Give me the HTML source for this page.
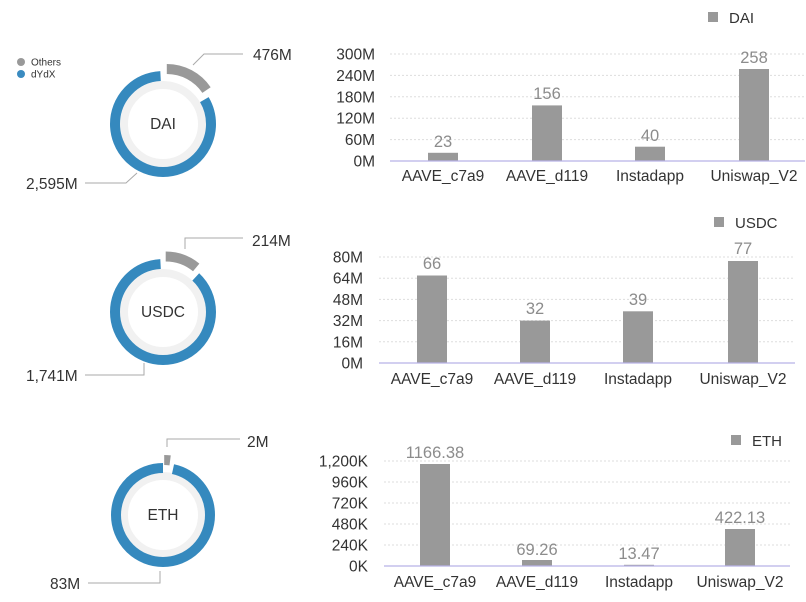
<!DOCTYPE html>
<html><head><meta charset="utf-8"><style>
html,body{margin:0;padding:0;background:#fff}
svg{display:block;font-family:"Liberation Sans",Arial,sans-serif}
.yt{font-size:15.5px;fill:#333;text-anchor:end}
.xt{font-size:15.5px;fill:#333;text-anchor:middle}
.vl{font-size:16.5px;fill:#8c8c8c;text-anchor:middle}
.gl{stroke:#ddd;stroke-width:1;stroke-dasharray:2,2}
.bl{stroke:#b8b2e6;stroke-width:1.2}
.bar{fill:#999}
.ld{stroke:#aaa;stroke-width:1;fill:none}
.dl{font-size:15.5px;fill:#333}
.cl{font-size:15.5px;fill:#333;text-anchor:middle}
.lg{font-size:15px;fill:#333}
</style></head><body>
<svg width="806" height="602" viewBox="0 0 806 602">
<circle cx="21" cy="62" r="4" fill="#999"/><text x="31" y="65.5" font-size="10" fill="#333">Others</text>
<circle cx="21" cy="74" r="4" fill="#3a8bc0"/><text x="31" y="77.5" font-size="10" fill="#333">dYdX</text>

<g transform="translate(163,124)">
<circle r="39" fill="none" stroke="#f1f1f1" stroke-width="8"/>
<circle r="48" fill="none" stroke="#3589be" stroke-width="10" transform="rotate(-90)" stroke-dasharray="248.9 400" stroke-dashoffset="-49.7"/>
<g transform="translate(3.8,-7)"><circle r="48" fill="none" stroke="#999" stroke-width="10" transform="rotate(-90)" stroke-dasharray="46.7 400"/></g>
<text class="cl" y="5">DAI</text>
</g>
<polyline class="ld" points="193,65 204,54 243,54"/><text class="dl" x="253" y="60">476M</text>
<polyline class="ld" points="85,183 126,183 137,173"/><text class="dl" x="26" y="189">2,595M</text>

<g transform="translate(163,312)">
<circle r="39" fill="none" stroke="#f1f1f1" stroke-width="8"/>
<circle r="48" fill="none" stroke="#3589be" stroke-width="10" transform="rotate(-90)" stroke-dasharray="262.6 400" stroke-dashoffset="-36"/>
<g transform="translate(2.7,-7.5)"><circle r="48" fill="none" stroke="#999" stroke-width="10" transform="rotate(-90)" stroke-dasharray="33 400"/></g>
<text class="cl" y="5">USDC</text>
</g>
<polyline class="ld" points="185,249 185,238 243,238"/><text class="dl" x="252" y="246">214M</text>
<polyline class="ld" points="85,375 144,375 144,363"/><text class="dl" x="26" y="381">1,741M</text>

<g transform="translate(163,515)">
<circle r="39" fill="none" stroke="#f1f1f1" stroke-width="8"/>
<circle r="47" fill="none" stroke="#3589be" stroke-width="10" transform="rotate(-90)" stroke-dasharray="285 400" stroke-dashoffset="-10.1"/>
<g transform="translate(1.2,-8)"><circle r="47" fill="none" stroke="#999" stroke-width="10" transform="rotate(-90)" stroke-dasharray="6 400"/></g>
<text class="cl" y="5">ETH</text>
</g>
<polyline class="ld" points="167,447 167,439 240,439"/><text class="dl" x="247" y="447">2M</text>
<polyline class="ld" points="88,583 160,583 160,571"/><text class="dl" x="50" y="589">83M</text>

<rect x="708" y="12" width="10" height="10" fill="#999"/><text class="lg" x="729" y="23">DAI</text>
<g>
<line class="gl" x1="390" x2="805" y1="54" y2="54"/>
<line class="gl" x1="390" x2="805" y1="75.4" y2="75.4"/>
<line class="gl" x1="390" x2="805" y1="96.8" y2="96.8"/>
<line class="gl" x1="390" x2="805" y1="118.2" y2="118.2"/>
<line class="gl" x1="390" x2="805" y1="139.6" y2="139.6"/>
<text class="yt" x="375" y="59.5">300M</text><text class="yt" x="375" y="80.9">240M</text><text class="yt" x="375" y="102.3">180M</text><text class="yt" x="375" y="123.7">120M</text><text class="yt" x="375" y="145.1">60M</text><text class="yt" x="375" y="166.5">0M</text>
<rect class="bar" x="428" y="152.8" width="30" height="8.2"/>
<rect class="bar" x="532" y="105.4" width="30" height="55.6"/>
<rect class="bar" x="635" y="146.7" width="30" height="14.3"/>
<rect class="bar" x="739" y="69" width="30" height="92"/>
<line class="bl" x1="390" x2="805" y1="161" y2="161"/>
<text class="vl" x="443" y="147">23</text><text class="vl" x="547" y="99">156</text><text class="vl" x="650" y="141">40</text><text class="vl" x="754" y="63">258</text>
<text class="xt" x="443" y="181">AAVE_c7a9</text><text class="xt" x="547" y="181">AAVE_d119</text><text class="xt" x="650" y="181">Instadapp</text><text class="xt" x="754" y="181">Uniswap_V2</text>
</g>

<rect x="714" y="217" width="10" height="10" fill="#999"/><text class="lg" x="735" y="228">USDC</text>
<g>
<line class="gl" x1="379" x2="795" y1="257" y2="257"/>
<line class="gl" x1="379" x2="795" y1="278.2" y2="278.2"/>
<line class="gl" x1="379" x2="795" y1="299.4" y2="299.4"/>
<line class="gl" x1="379" x2="795" y1="320.6" y2="320.6"/>
<line class="gl" x1="379" x2="795" y1="341.8" y2="341.8"/>
<text class="yt" x="363" y="262.5">80M</text><text class="yt" x="363" y="283.7">64M</text><text class="yt" x="363" y="304.9">48M</text><text class="yt" x="363" y="326.1">32M</text><text class="yt" x="363" y="347.3">16M</text><text class="yt" x="363" y="368.5">0M</text>
<rect class="bar" x="417" y="275.5" width="30" height="87.5"/>
<rect class="bar" x="520" y="320.6" width="30" height="42.4"/>
<rect class="bar" x="623" y="311.3" width="30" height="51.7"/>
<rect class="bar" x="728" y="261" width="30" height="102"/>
<line class="bl" x1="379" x2="795" y1="363" y2="363"/>
<text class="vl" x="432" y="269">66</text><text class="vl" x="535" y="314">32</text><text class="vl" x="638" y="305">39</text><text class="vl" x="743" y="254">77</text>
<text class="xt" x="432" y="384">AAVE_c7a9</text><text class="xt" x="535" y="384">AAVE_d119</text><text class="xt" x="638" y="384">Instadapp</text><text class="xt" x="743" y="384">Uniswap_V2</text>
</g>

<rect x="731" y="435" width="10" height="10" fill="#999"/><text class="lg" x="752" y="446">ETH</text>
<g>
<line class="gl" x1="384" x2="790" y1="461" y2="461"/>
<line class="gl" x1="384" x2="790" y1="482" y2="482"/>
<line class="gl" x1="384" x2="790" y1="503" y2="503"/>
<line class="gl" x1="384" x2="790" y1="524" y2="524"/>
<line class="gl" x1="384" x2="790" y1="545" y2="545"/>
<text class="yt" x="368" y="466.5">1,200K</text><text class="yt" x="368" y="487.5">960K</text><text class="yt" x="368" y="508.5">720K</text><text class="yt" x="368" y="529.5">480K</text><text class="yt" x="368" y="550.5">240K</text><text class="yt" x="368" y="571.5">0K</text>
<rect class="bar" x="420" y="464" width="30" height="102"/>
<rect class="bar" x="522" y="560" width="30" height="6"/>
<rect class="bar" x="624" y="564.8" width="30" height="1.2"/>
<rect class="bar" x="725" y="529" width="30" height="37"/>
<line class="bl" x1="384" x2="790" y1="566" y2="566"/>
<text class="vl" x="435" y="458" font-size="15.5">1166.38</text><text class="vl" x="537" y="555" font-size="15.5">69.26</text><text class="vl" x="639" y="559" font-size="15.5">13.47</text><text class="vl" x="740" y="523" font-size="15.5">422.13</text>
<text class="xt" x="435" y="587">AAVE_c7a9</text><text class="xt" x="537" y="587">AAVE_d119</text><text class="xt" x="639" y="587">Instadapp</text><text class="xt" x="740" y="587">Uniswap_V2</text>
</g>
</svg>
</body></html>
